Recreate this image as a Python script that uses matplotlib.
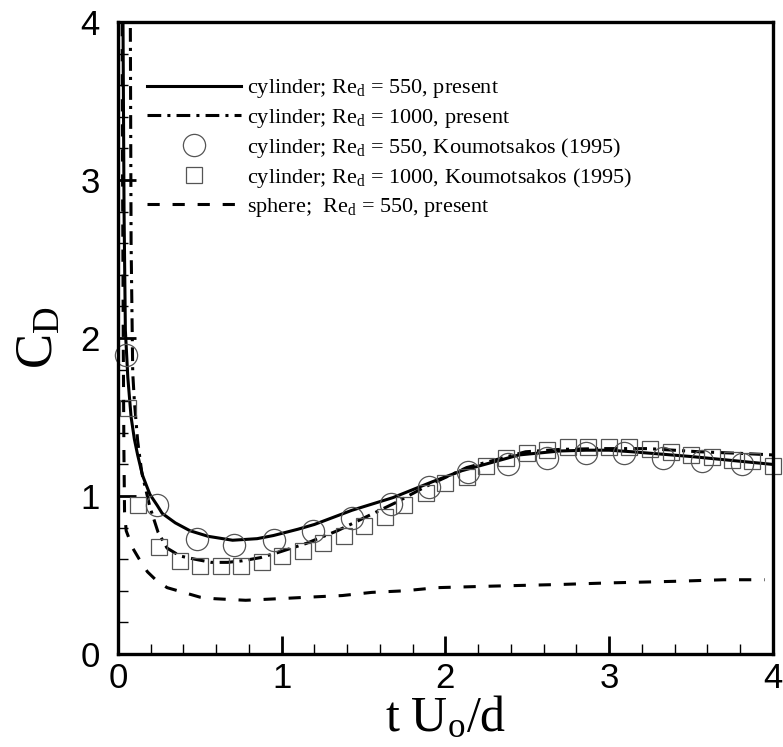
import numpy as np
import matplotlib
matplotlib.use("Agg")
import matplotlib.pyplot as plt

plt.rcParams['font.family'] = ['Liberation Serif', 'DejaVu Serif']
plt.rcParams['mathtext.fontset'] = 'custom'
plt.rcParams['mathtext.rm'] = 'Liberation Serif'
plt.rcParams['mathtext.it'] = 'Liberation Serif:italic'

# cylinder, Re_d = 550, present (solid)
cyl550_t = [0.02, 0.03, 0.037, 0.045, 0.06, 0.08, 0.1, 0.12, 0.15, 0.195,
            0.24, 0.27, 0.35, 0.44, 0.55, 0.7, 0.85, 0.95, 1.1, 1.2, 1.43,
            1.68, 1.92, 2.1, 2.45, 2.7, 2.86, 3.0, 3.14, 3.5, 3.75, 4.0]
cyl550_cd = [6.0, 4.1, 2.8, 2.05, 1.75, 1.5, 1.36, 1.26, 1.13, 1.01,
             0.94, 0.89, 0.83, 0.78, 0.745, 0.72, 0.73, 0.75, 0.79, 0.82, 0.91,
             0.99, 1.09, 1.16, 1.26, 1.285, 1.29, 1.29, 1.28, 1.25, 1.225, 1.20]

# cylinder, Re_d = 1000, present (dash-dot)
cyl1000_t = [0.07, 0.075, 0.08, 0.09, 0.10, 0.12, 0.145, 0.195, 0.245, 0.30,
             0.38, 0.47, 0.57, 0.67, 0.76, 0.87, 0.97, 1.15, 1.34, 1.52,
             1.70, 1.88, 2.13, 2.49, 2.7, 2.94, 3.24, 3.55, 3.8, 4.0]
cyl1000_cd = [6.0, 4.1, 2.6, 1.78, 1.6, 1.35, 1.15, 0.93, 0.77, 0.67,
              0.62, 0.60, 0.58, 0.58, 0.59, 0.61, 0.64, 0.70, 0.78, 0.87,
              0.96, 1.06, 1.18, 1.28, 1.295, 1.30, 1.30, 1.28, 1.27, 1.26]

# sphere, Re_d = 550, present (dashed)
sph_t = [0.02, 0.028, 0.032, 0.036, 0.04, 0.05, 0.09, 0.13, 0.18, 0.23,
         0.30, 0.40, 0.50, 0.59, 0.78, 0.98, 1.17, 1.37, 1.55, 1.75, 1.95,
         2.3, 2.7, 3.0, 3.4, 3.7, 3.95]
sph_cd = [6.0, 3.0, 2.0, 1.3, 0.9, 0.78, 0.67, 0.60, 0.52, 0.47,
          0.42, 0.39, 0.36, 0.35, 0.34, 0.35, 0.36, 0.37, 0.39, 0.40, 0.42,
          0.43, 0.44, 0.45, 0.46, 0.47, 0.47]

# Koumoutsakos (1995), Re_d = 550 (circles)
k550_t = [0.05, 0.24, 0.48, 0.71, 0.95, 1.19, 1.43, 1.67, 1.90, 2.14, 2.38,
          2.62, 2.86, 3.09, 3.33, 3.57, 3.81]
k550_cd = [1.89, 0.94, 0.73, 0.69, 0.72, 0.78, 0.86, 0.95, 1.06, 1.15, 1.20,
           1.24, 1.27, 1.27, 1.24, 1.22, 1.20]

# Koumoutsakos (1995), Re_d = 1000 (squares)
k1000_t = [0.06, 0.12, 0.25, 0.38, 0.50, 0.63, 0.75, 0.88, 1.00, 1.13, 1.25,
           1.38, 1.50, 1.63, 1.75, 1.88, 2.00, 2.13, 2.25, 2.37, 2.50, 2.62,
           2.75, 2.87, 3.00, 3.12, 3.25, 3.38, 3.50, 3.63, 3.75, 3.87, 4.00]
k1000_cd = [1.56, 0.94, 0.68, 0.59, 0.56, 0.56, 0.56, 0.58, 0.62, 0.65, 0.70,
            0.75, 0.81, 0.87, 0.94, 1.02, 1.08, 1.12, 1.19, 1.24, 1.27, 1.29,
            1.31, 1.31, 1.31, 1.31, 1.30, 1.28, 1.26, 1.25, 1.23, 1.22, 1.19]

fig = plt.figure(figsize=(7.83, 7.47), dpi=100)
ax = fig.add_axes([0.1507, 0.1245, 0.8363, 0.846])

ax.plot(cyl550_t, cyl550_cd, color='black', lw=2.2, ls='-',
        label=r'cylinder; Re$_\mathrm{d}$ = 550, present')
ax.plot(cyl1000_t, cyl1000_cd, color='black', lw=2.2,
        ls=(0, (4.5, 2.0, 1.0, 2.0)),
        label=r'cylinder; Re$_\mathrm{d}$ = 1000, present')
ax.plot(k550_t, k550_cd, ls='none', marker='o', ms=16, mfc='none',
        mec='#555555', mew=0.9, clip_on=False,
        label=r'cylinder; Re$_\mathrm{d}$ = 550, Koumotsakos (1995)')
ax.plot(k1000_t, k1000_cd, ls='none', marker='s', ms=11.5, mfc='none',
        mec='#555555', mew=0.9, clip_on=False,
        label=r'cylinder; Re$_\mathrm{d}$ = 1000, Koumotsakos (1995)')
ax.plot(sph_t, sph_cd, color='black', lw=2.2, ls=(0, (4.0, 4.2)),
        label=r'sphere;  Re$_\mathrm{d}$ = 550, present')

ax.set_xlim(0, 4)
ax.set_ylim(0, 4)
ax.set_xticks([0, 1, 2, 3, 4])
ax.set_yticks([0, 1, 2, 3, 4])
ax.set_xticks(np.arange(0, 4.01, 0.2), minor=True)
ax.set_yticks(np.arange(0, 4.01, 0.2), minor=True)
ax.tick_params(which='major', direction='in', length=13, width=2,
               labelsize=25, top=False, right=False)
ax.tick_params(which='minor', direction='in', length=7, width=1,
               top=False, right=False)
ax.tick_params(axis='x', which='major', pad=6)
ax.tick_params(axis='y', which='major', pad=13)
for lab in ax.get_xticklabels() + ax.get_yticklabels():
    lab.set_fontfamily('Liberation Sans')
for sp in ax.spines.values():
    sp.set_linewidth(2.4)

ax.set_xlabel(r'$\mathrm{t\ U_o/d}$', fontsize=36, labelpad=0)
ax.set_ylabel(r'$\mathrm{C_D}$', fontsize=38, labelpad=12)

ax.legend(loc='upper left', bbox_to_anchor=(0.028, 0.93), frameon=False,
          fontsize=16, handlelength=4.2, handletextpad=0.3, borderpad=0,
          labelspacing=0.28)

fig.savefig('out.png', dpi=100)
